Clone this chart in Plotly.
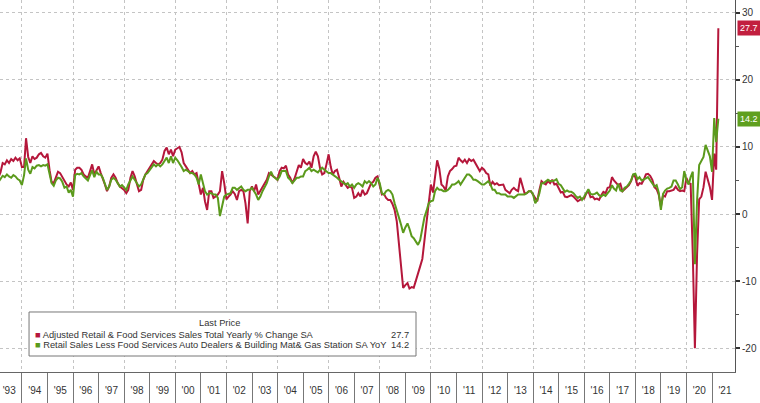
import pandas as pd
import plotly.graph_objects as go

# ---------------- data (monthly, Jan 1993 .. Mar 2021) ----------------
start_month = "1993-01-01"

retail_total_yoy = [
    # 1993
    5.5, 6.2, 7.6, 7.4, 8.0, 7.6, 8.2, 7.9, 8.4, 8.0, 8.3, 7.0,
    # 1994
    7.0, 11.3, 8.5, 7.6, 8.6, 8.2, 8.4, 8.9, 9.1, 8.6, 8.4, 9.0,
    # 1995
    6.5, 4.8, 4.6, 5.6, 6.3, 6.1, 5.5, 4.9, 4.4, 4.1, 4.7, 3.6,
    # 1996
    6.6, 6.9, 6.9, 6.6, 5.9, 5.6, 5.4, 6.4, 7.4, 5.9, 6.6, 7.1,
    # 1997
    6.1, 5.4, 4.4, 3.4, 4.1, 5.4, 5.9, 5.4, 4.6, 4.1, 3.9, 3.6,
    # 1998
    3.1, 3.6, 5.4, 6.4, 5.6, 4.4, 3.4, 3.6, 5.1, 5.9, 6.4, 6.9,
    # 1999
    7.4, 7.9, 7.6, 7.4, 7.6, 8.1, 9.4, 9.9, 8.9, 9.6, 8.6, 9.6,
    # 2000
    9.8, 10.0, 9.2, 7.6, 7.1, 6.6, 6.1, 6.4, 5.9, 6.1, 4.4, 2.9,
    # 2001
    3.9, 1.9, 0.6, 3.4, 3.4, 2.4, 2.6, 2.9, 3.4, 6.4, 4.6, 2.2,
    # 2002
    2.6, 2.9, 3.4, 3.0, 2.1, 3.4, 3.6, 3.4, 1.6, -1.4, 3.4, 4.1,
    # 2003
    3.4, 4.4, 2.9, 3.4, 3.9, 4.4, 5.1, 6.1, 5.9, 5.6, 5.4, 5.1,
    # 2004
    6.4, 6.9, 6.8, 7.2, 5.9, 5.4, 4.6, 5.3, 6.4, 7.3, 6.9, 8.2,
    # 2005
    7.6, 7.4, 7.8, 6.9, 8.6, 9.3, 8.6, 6.8, 5.9, 6.1, 7.4, 8.9,
    # 2006
    7.0, 5.9, 6.4, 6.6, 5.4, 4.1, 4.8, 4.4, 3.9, 4.1, 3.9, 2.4,
    # 2007
    2.6, 3.1, 2.6, 3.6, 2.9, 3.1, 3.8, 4.6, 4.8, 5.4, 5.6, 4.1,
    # 2008
    2.9, 3.0, 2.4, 2.1, 2.1, 1.5, 0.6, -1.1, -4.3, -7.6, -11.0, -10.6,
    # 2009
    -10.3, -11.1, -10.9, -11.0, -9.8, -8.6, -7.8, -6.7, -4.0, -0.8, 1.9, 4.4,
    # 2010
    3.2, 5.7, 8.0, 6.8, 4.4, 4.1, 3.5, 5.6, 6.4, 6.7, 7.1, 7.2,
    # 2011
    8.4, 8.0, 7.7, 8.1, 7.6, 8.2, 7.9, 8.1, 7.6, 7.1, 6.4, 6.9,
    # 2012
    6.6, 6.1, 5.9, 4.2, 4.8, 4.4, 4.6, 4.3, 4.4, 4.4, 3.6, 3.4,
    # 2013
    3.1, 3.6, 3.9, 3.6, 3.4, 5.4, 4.4, 3.1, 3.1, 3.4, 3.4, 2.9,
    # 2014
    2.4, 1.9, 3.6, 4.9, 4.6, 4.4, 4.9, 4.6, 5.1, 4.4, 4.5, 3.8,
    # 2015
    3.2, 3.3, 2.6, 2.5, 2.7, 2.8, 2.6, 2.3, 1.9, 2.1, 2.3, 2.3,
    # 2016
    3.1, 3.4, 2.5, 2.6, 2.2, 2.3, 2.1, 2.8, 3.3, 3.1, 3.9, 4.0,
    # 2017
    5.5, 5.0, 4.6, 4.3, 4.5, 3.4, 3.7, 4.0, 4.3, 4.9, 5.9, 5.5,
    # 2018
    4.2, 4.6, 4.5, 5.1, 5.9, 6.0, 5.7, 5.1, 4.0, 3.7, 2.9, 1.1,
    # 2019
    2.8, 2.6, 3.4, 3.4, 3.5, 3.6, 4.1, 3.6, 3.4, 3.5, 3.4, 5.4,
    # 2020
    4.6, 4.5, -6.0, -20.0, -6.0, 2.2, 2.6, 4.0, 6.3, 5.3, 4.0, 2.1,
    # 2021
    9.0, 6.6, 27.7,
]

retail_control_yoy = [
    # 1993
    4.8, 5.2, 5.7, 5.5, 5.9, 5.6, 5.4, 5.8, 5.6, 5.2, 5.0, 4.3,
    # 1994
    5.8, 8.3, 6.6, 6.0, 7.0, 6.8, 7.2, 7.3, 7.1, 7.3, 7.2, 7.4,
    # 1995
    5.8, 4.6, 4.2, 5.0, 5.4, 5.3, 4.8, 3.9, 4.1, 3.2, 3.6, 2.6,
    # 1996
    5.8, 6.0, 5.9, 6.1, 5.6, 5.3, 5.0, 5.8, 6.5, 5.5, 6.3, 5.9,
    # 1997
    5.9, 5.4, 4.6, 3.6, 4.1, 5.1, 5.4, 5.1, 4.6, 4.1, 4.3, 3.9,
    # 1998
    3.6, 4.4, 5.1, 5.6, 5.1, 4.6, 4.1, 4.4, 5.1, 5.9, 6.1, 6.6,
    # 1999
    6.9, 7.4, 7.1, 7.4, 7.1, 7.4, 7.9, 8.4, 7.6, 8.6, 7.6, 8.4,
    # 2000
    8.0, 7.6, 7.0, 6.4, 6.6, 6.4, 6.1, 6.1, 5.9, 5.4, 4.4, 5.9,
    # 2001
    4.4, 3.4, 2.9, 3.1, 3.1, 2.9, 2.9, 2.4, -0.3, 1.4, 2.6, 2.9,
    # 2002
    3.0, 3.1, 3.9, 3.9, 3.6, 3.9, 4.1, 3.6, 3.4, 3.6, 3.6, 3.9,
    # 2003
    3.4, 2.9, 2.1, 2.6, 3.4, 3.9, 4.6, 5.6, 6.3, 5.6, 5.4, 5.1,
    # 2004
    5.6, 6.4, 6.4, 6.4, 5.4, 5.1, 4.6, 5.1, 5.4, 5.4, 5.6, 5.6,
    # 2005
    6.4, 6.6, 6.9, 6.4, 6.6, 6.4, 6.2, 6.6, 6.9, 6.6, 6.4, 6.1,
    # 2006
    6.1, 5.9, 5.6, 5.4, 5.1, 4.9, 4.6, 4.4, 4.6, 4.1, 4.4, 3.9,
    # 2007
    4.4, 4.6, 4.4, 4.1, 4.9, 4.6, 4.9, 4.6, 4.1, 4.4, 5.4, 4.6,
    # 2008
    3.1, 2.9, 3.4, 3.6, 3.4, 2.9, 1.6, 0.3, -0.5, -1.6, -2.8, -2.0,
    # 2009
    -1.4, -2.2, -3.3, -3.6, -4.1, -4.6, -3.9, -2.0, -0.5, 0.5, 1.6, 1.9,
    # 2010
    2.0, 3.4, 3.9, 3.6, 3.6, 3.4, 3.4, 3.6, 3.9, 4.4, 4.4, 4.6,
    # 2011
    4.9, 4.4, 4.9, 5.4, 5.9, 5.9, 5.6, 5.1, 5.1, 4.9, 4.6, 4.4,
    # 2012
    4.4, 4.6, 4.9, 4.4, 3.6, 3.6, 3.1, 3.1, 2.9, 2.9, 2.9, 2.6,
    # 2013
    2.6, 2.6, 2.4, 2.6, 2.9, 2.9, 2.9, 2.9, 3.1, 3.4, 3.4, 2.9,
    # 2014
    1.6, 2.1, 3.1, 4.6, 4.6, 4.9, 5.1, 4.9, 4.9, 5.0, 5.2, 4.5,
    # 2015
    4.3, 3.8, 3.3, 3.5, 3.3, 3.3, 3.1, 2.7, 2.4, 2.6, 2.1, 2.6,
    # 2016
    3.3, 3.7, 3.0, 2.9, 3.0, 3.2, 2.8, 2.6, 2.9, 2.7, 3.1, 3.5,
    # 2017
    4.3, 3.8, 3.5, 4.5, 3.5, 3.4, 3.9, 4.1, 4.5, 5.0, 5.9, 6.0,
    # 2018
    5.2, 5.5, 5.0, 5.1, 5.3, 5.5, 5.0, 4.7, 4.1, 4.3, 3.2, 0.6,
    # 2019
    3.0, 3.5, 3.8, 3.9, 4.1, 5.0, 5.0, 4.4, 3.7, 4.0, 6.4, 5.0,
    # 2020
    4.4, 5.5, 6.3, -7.5, 2.0, 7.3, 7.9, 8.5, 10.3, 9.3, 8.6, 6.3,
    # 2021
    14.3, 10.7, 14.2,
]

red_name = "Adjusted Retail & Food Services Sales Total Yearly % Change SA"
green_name = "Retail Sales Less Food Services Auto Dealers & Building Mat& Gas Station SA YoY"
legend_title = "Last Price"

y_ticks = [-20, -10, 0, 10, 20, 30]
y_minor_ticks = [-15, -5, 5, 15, 25]
x_range = ["1993-02-21", "2021-11-24"]
y_range = [-23.55, 31.9]

# ---------------- styling ----------------
RED = "#b5173b"
GREEN = "#5b9a1c"
RED_TAG = "#c21f3f"
GREEN_TAG = "#5f9f1f"
GRID = "#c4c4c4"
TEXT = "#333333"
FONT = "Liberation Sans, Arial, sans-serif"

dates = pd.date_range(start=start_month, periods=len(retail_total_yoy), freq="MS") + pd.offsets.MonthEnd(0)

fig = go.Figure()
fig.add_trace(go.Scatter(x=dates, y=retail_total_yoy, mode="lines", name=red_name,
                         line=dict(color=RED, width=2), hoverinfo="skip"))
fig.add_trace(go.Scatter(x=dates, y=retail_control_yoy, mode="lines", name=green_name,
                         line=dict(color=GREEN, width=2), hoverinfo="skip"))
# empty helper traces so the overlay axes (year separators / 2-year grid) are built
fig.add_trace(go.Scatter(x=[], y=[], xaxis="x2", showlegend=False))
fig.add_trace(go.Scatter(x=[], y=[], xaxis="x3", showlegend=False))

fig.update_layout(
    width=760, height=403,
    margin=dict(l=0, r=25, t=0, b=31),
    paper_bgcolor="white", plot_bgcolor="white",
    showlegend=False,
    font=dict(family=FONT, size=10, color=TEXT),
    xaxis=dict(
        type="date", range=x_range, dtick="M12", tick0="1993-01-01",
        tickformat="'%y", ticklabelmode="period", ticks="",
        showgrid=False, zeroline=False, showline=True, linecolor="#666", linewidth=1,
        ticklabelstandoff=9, tickfont=dict(size=10, color=TEXT),
    ),
    xaxis2=dict(
        type="date", overlaying="x", anchor="y", range=x_range,
        dtick="M12", tick0="1994-01-01", ticks="outside", ticklen=32,
        tickcolor="#777", tickwidth=1, showticklabels=False,
        showgrid=False, zeroline=False, showline=False,
    ),
    xaxis3=dict(
        type="date", overlaying="x", anchor="y", range=x_range,
        dtick="M24", tick0="1994-01-01", ticks="", showticklabels=False,
        showgrid=True, griddash="dot", gridcolor=GRID, gridwidth=1,
        zeroline=False, showline=False,
    ),
    yaxis=dict(
        side="right", range=y_range, tickmode="array", tickvals=y_ticks,
        ticktext=[str(v) for v in y_ticks],
        showgrid=True, griddash="dot", gridcolor=GRID, gridwidth=1,
        zeroline=False, showline=True, linecolor="#555", linewidth=1,
        ticks="outside", ticklen=4, tickwidth=2, tickcolor="#333",
        tickfont=dict(size=10, color=TEXT),
        minor=dict(tickmode="array", tickvals=y_minor_ticks, ticks="outside",
                   ticklen=3, tickwidth=1, tickcolor="#555", showgrid=False),
    ),
)

annotations = [
    dict(x=1, xref="paper", y=retail_total_yoy[-1], yref="y",
         text=f"{retail_total_yoy[-1]:.1f}", showarrow=False, xanchor="left", xshift=2,
         font=dict(color="white", size=9, family=FONT), bgcolor=RED_TAG, borderpad=2),
    dict(x=1, xref="paper", y=retail_control_yoy[-1], yref="y",
         text=f"{retail_control_yoy[-1]:.1f}", showarrow=False, xanchor="left", xshift=2,
         font=dict(color="white", size=9, family=FONT), bgcolor=GREEN_TAG, borderpad=2),
    # legend box contents
    dict(x=0.299, xref="paper", y=0.1317, yref="paper", text=legend_title, showarrow=False,
         xanchor="center", yanchor="middle", font=dict(size=9.3, color=TEXT)),
    dict(x=0.0449, xref="paper", y=0.1008, yref="paper",
         text=f"<span style='color:{RED}'>■</span> {red_name}", showarrow=False,
         xanchor="left", yanchor="middle", font=dict(size=9.3, color=TEXT)),
    dict(x=0.0449, xref="paper", y=0.0718, yref="paper",
         text=f"<span style='color:{GREEN}'>■</span> {green_name}", showarrow=False,
         xanchor="left", yanchor="middle", font=dict(size=9.3, color=TEXT)),
    dict(x=0.559, xref="paper", y=0.1008, yref="paper", text=f"{retail_total_yoy[-1]:.1f}",
         showarrow=False, xanchor="right", yanchor="middle", font=dict(size=9.3, color=TEXT)),
    dict(x=0.559, xref="paper", y=0.0718, yref="paper", text=f"{retail_control_yoy[-1]:.1f}",
         showarrow=False, xanchor="right", yanchor="middle", font=dict(size=9.3, color=TEXT)),
]
fig.update_layout(annotations=annotations)

fig.add_shape(type="rect", xref="paper", yref="paper", x0=0.0395, x1=0.566, y0=0.043, y1=0.1613,
              line=dict(color="#777", width=1), fillcolor="white", layer="above")

# remove the browser's default 8px body margin so the 760x403 figure fills the window
fig.write_html("out.html", config={"displayModeBar": False},
               post_script="document.body.style.margin='0';document.body.style.overflow='hidden';")
